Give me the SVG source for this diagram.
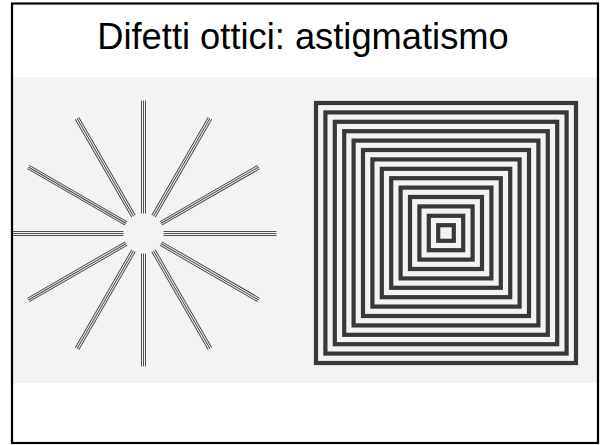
<svg xmlns="http://www.w3.org/2000/svg" xmlns:xlink="http://www.w3.org/1999/xlink" width="602" height="445" viewBox="0 0 602 445">
  <style>
    .title { font-family: "Liberation Sans", Arial, sans-serif; font-size: 36.3px; fill: #000; }
    .ray line { stroke: #404040; stroke-width: 0.9; }
    .sq { fill: none; stroke: #383838; stroke-width: 4.2; }
  </style>
  <defs>
    <clipPath id="photoClip"><rect x="13" y="77" width="585" height="306"/></clipPath>
    <g id="ray" class="ray">
      <line x1="20" y1="-2" x2="133" y2="-2"/>
      <line x1="20" y1="0" x2="133" y2="0"/>
      <line x1="20" y1="2" x2="133" y2="2"/>
    </g>
  </defs>
  <rect x="0" y="0" width="602" height="445" fill="#ffffff"/>
  <g id="title">
    <text class="title" x="303" y="49" text-anchor="middle">Difetti ottici: astigmatismo</text>
  </g>
  <g id="photo" clip-path="url(#photoClip)">
    <rect x="13" y="77" width="585" height="306" fill="#f3f3f3"/>
    <g id="star" transform="translate(143.5,233.5)">
      <use xlink:href="#ray" transform="rotate(0)"/>
      <use xlink:href="#ray" transform="rotate(30)"/>
      <use xlink:href="#ray" transform="rotate(60)"/>
      <use xlink:href="#ray" transform="rotate(90)"/>
      <use xlink:href="#ray" transform="rotate(120)"/>
      <use xlink:href="#ray" transform="rotate(150)"/>
      <use xlink:href="#ray" transform="rotate(180)"/>
      <use xlink:href="#ray" transform="rotate(210)"/>
      <use xlink:href="#ray" transform="rotate(240)"/>
      <use xlink:href="#ray" transform="rotate(270)"/>
      <use xlink:href="#ray" transform="rotate(300)"/>
      <use xlink:href="#ray" transform="rotate(330)"/>
    </g>
    <g id="squares" transform="translate(446,233)">
      <rect class="sq" x="-130" y="-130" width="260" height="260"/>
      <rect class="sq" x="-120.6" y="-120.6" width="241.2" height="241.2"/>
      <rect class="sq" x="-111.2" y="-111.2" width="222.4" height="222.4"/>
      <rect class="sq" x="-101.8" y="-101.8" width="203.6" height="203.6"/>
      <rect class="sq" x="-92.4" y="-92.4" width="184.8" height="184.8"/>
      <rect class="sq" x="-83" y="-83" width="166" height="166"/>
      <rect class="sq" x="-73.6" y="-73.6" width="147.2" height="147.2"/>
      <rect class="sq" x="-64.2" y="-64.2" width="128.4" height="128.4"/>
      <rect class="sq" x="-54.8" y="-54.8" width="109.6" height="109.6"/>
      <rect class="sq" x="-45.4" y="-45.4" width="90.8" height="90.8"/>
      <rect class="sq" x="-36" y="-36" width="72" height="72"/>
      <rect class="sq" x="-26.6" y="-26.6" width="53.2" height="53.2"/>
      <rect class="sq" x="-17.2" y="-17.2" width="34.4" height="34.4"/>
      <rect class="sq" x="-7.8" y="-7.8" width="15.6" height="15.6"/>
    </g>
  </g>
  <rect id="frame" x="12" y="3.5" width="586" height="439.5" fill="none" stroke="#000" stroke-width="2.2"/>
</svg>
